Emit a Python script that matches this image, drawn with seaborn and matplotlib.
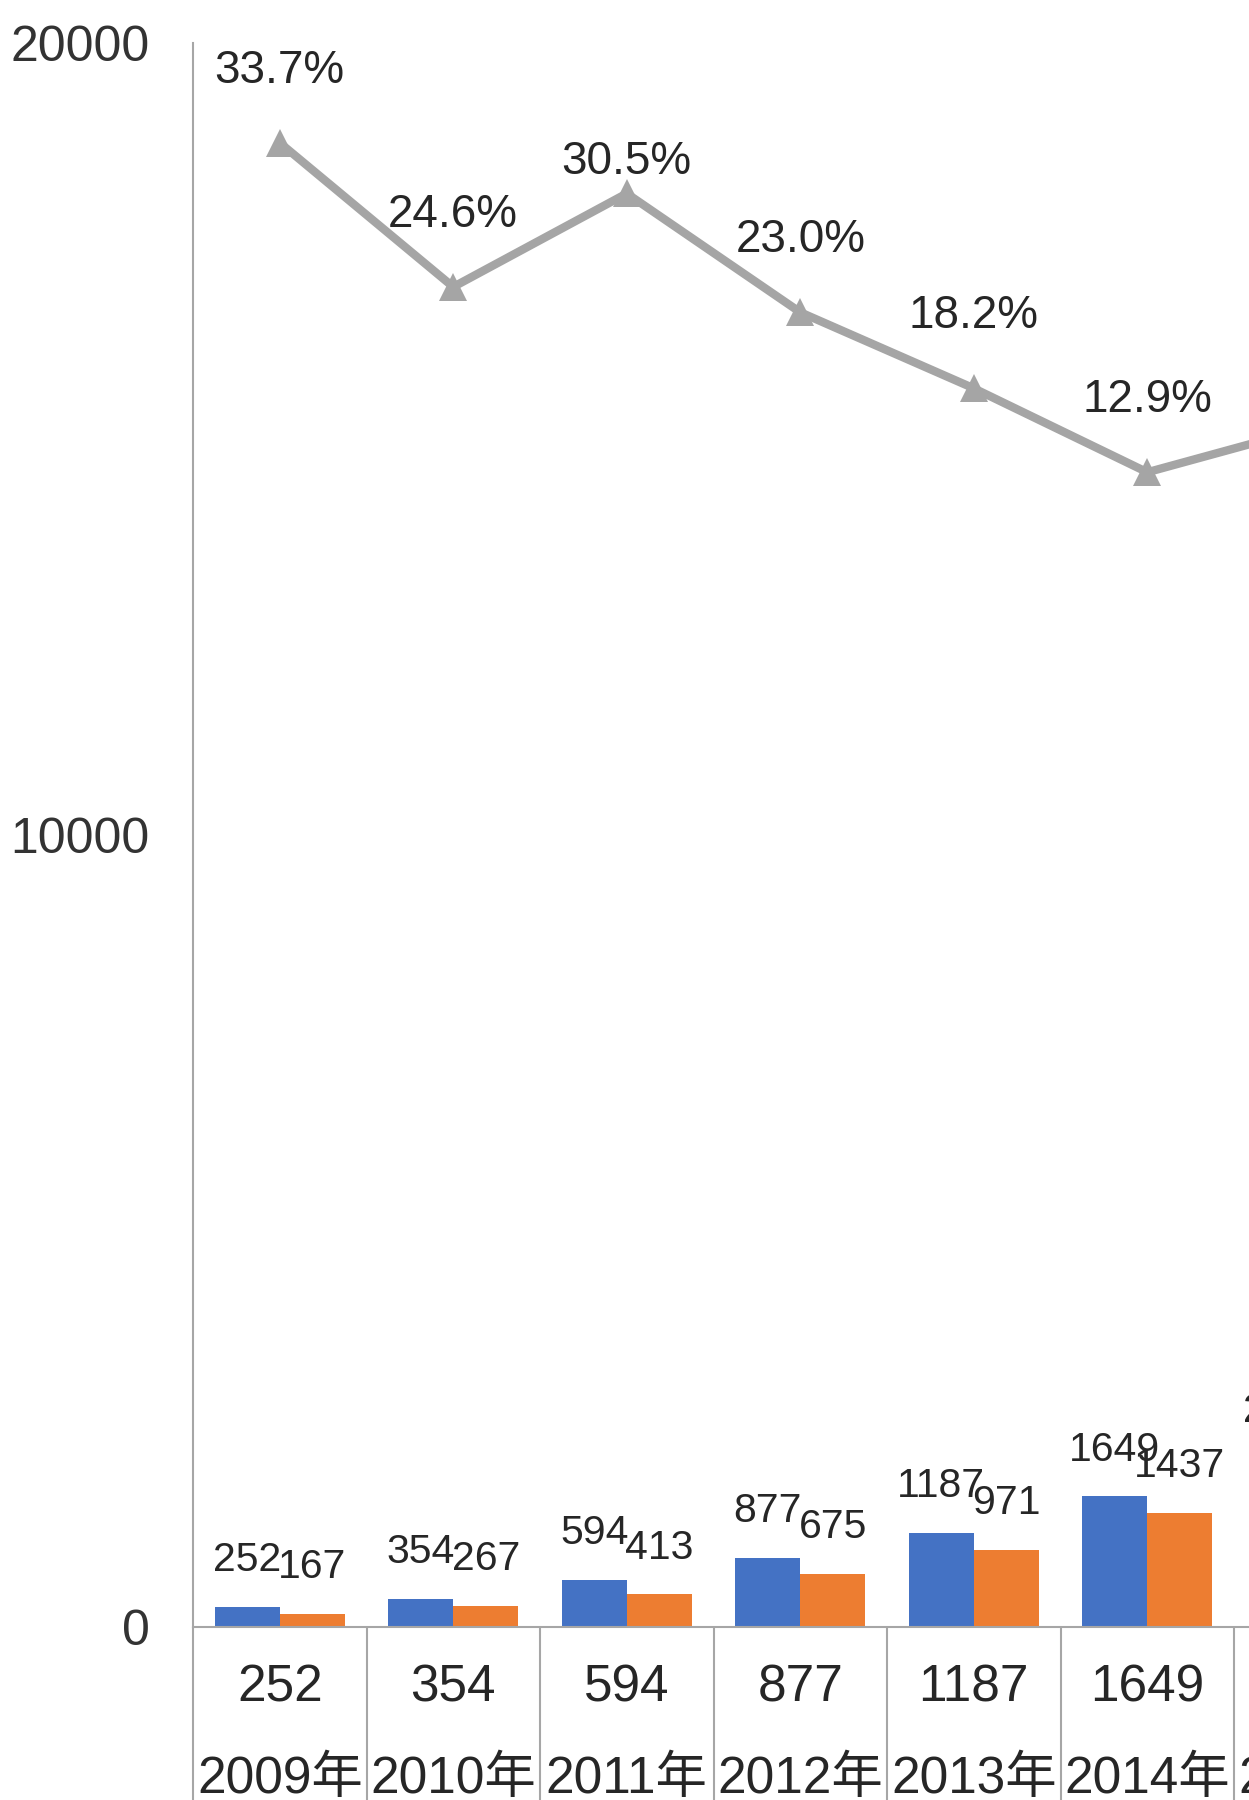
import numpy as np
import pandas as pd
import matplotlib
matplotlib.use("Agg")
import matplotlib.pyplot as plt
from matplotlib import font_manager
import seaborn as sns

# values (2015 only partly visible, estimated)
years = ["2009年", "2010年", "2011年", "2012年", "2013年", "2014年", "2015年"]
series_a = [252, 354, 594, 877, 1187, 1649, 2134]
series_b = [167, 267, 413, 675, 971, 1437, 1850]
growth = [33.7, 24.6, 30.5, 23.0, 18.2, 12.9, 15.9]
y_ticks = [0, 10000, 20000]

sns.set_theme(style="white")
names = {f.name for f in font_manager.fontManager.ttflist}
narrow = "Liberation Sans Narrow" if "Liberation Sans Narrow" in names else None
plt.rcParams["font.family"] = ["Liberation Sans", "Noto Sans CJK SC", "DejaVu Sans"]

n = len(years)
df = pd.DataFrame({
    "年份": years * 2,
    "数量": series_a + series_b,
    "系列": ["a"] * n + ["b"] * n,
})

text_color = "#262626"
grid_color = "#A6A6A6"

W, H = 1249, 1800
fig = plt.figure(figsize=(W / 100, H / 100), dpi=100)
cat_w = 173.5 / W
ax = fig.add_axes([193 / W, 1 - 1627 / H, cat_w * n, (1627 - 43) / H])

sns.barplot(data=df, x="年份", y="数量", hue="系列",
            palette=["#4472C4", "#ED7D31"], saturation=1,
            width=0.75, gap=0, linewidth=0, legend=False, ax=ax)

for c in ax.containers:
    ax.bar_label(c, padding=20, fontsize=29.5, color=text_color)

ax.set_ylim(0, 20000)
ax.set_yticks(y_ticks)
ax.set_yticklabels([str(t) for t in y_ticks], fontsize=36, color="#333333")
ax.tick_params(axis="y", length=0, pad=31)
ax.set_xlim(-0.5, n - 0.5)
ax.set_xlabel("")
ax.set_ylabel("")
ax.tick_params(axis="x", length=0, labelbottom=False)

for side in ["top", "right"]:
    ax.spines[side].set_visible(False)
for side in ["left", "bottom"]:
    ax.spines[side].set_color(grid_color)
    ax.spines[side].set_linewidth(1.5)

# data table below the plot
xt = ax.get_xaxis_transform()
ax.vlines(np.arange(n + 1) - 0.5, -0.2, 0, transform=xt, colors=grid_color,
          linewidth=1.5, clip_on=False)
for i, (v, yr) in enumerate(zip(series_a, years)):
    ax.text(i, -75 / 1584, str(v), transform=xt, ha="center", va="baseline",
            fontsize=37, color=text_color, clip_on=False)
    ax.text(i, -166 / 1584, yr, transform=xt, ha="center", va="baseline",
            fontsize=37, color=text_color, clip_on=False)

# growth line on secondary axis
ax2 = ax.twinx()
sns.lineplot(x=np.arange(n), y=growth, ax=ax2, color="#A5A5A5", linewidth=6,
             marker="^", markersize=20, markeredgewidth=0)
ax2.set_ylim(-60, 40)
ax2.set_yticks([])
for s in ax2.spines.values():
    s.set_visible(False)

pct_kw = dict(fontsize=37, family=narrow) if narrow else dict(fontsize=33)
for i, v in enumerate(growth):
    off = 23 if v == 30.5 else 52
    ax2.annotate(f"{v:.1f}%", (i, v), xytext=(0, off), textcoords="offset points",
                 ha="center", va="center", color=text_color, **pct_kw)

ax.set_xlim(-0.5, n - 0.5)
fig.savefig("out.png", dpi=100)
